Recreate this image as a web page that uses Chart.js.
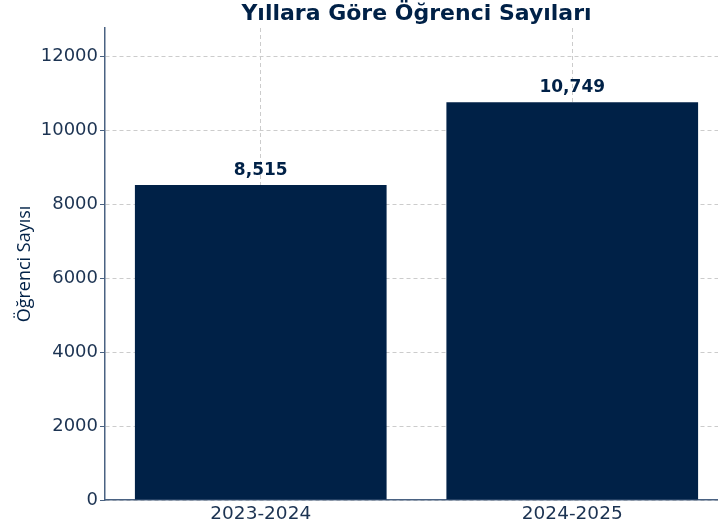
<!DOCTYPE html>
<html>
<head>
<meta charset="utf-8">
<script src="https://cdn.jsdelivr.net/npm/chart.js@4"></script>
<style>
  html, body { margin: 0; padding: 0; background: #fff; overflow: hidden; }
</style>
</head>
<body>
<canvas id="studentChart" width="728" height="529"></canvas>
<script>
const years = ['2023-2024', '2024-2025']
const student_counts = [8515, 10749]
const y_ticks = [0, 2000, 4000, 6000, 8000, 10000, 12000]
const chart_title = 'Yıllara Göre Öğrenci Sayıları'

const navy = '#002147'
const spine = '#4a6282'
const tickText = '#1c3352'

// labels above bars + title centred over the plot area
const valueLabels = {
    id: 'valueLabels',
    afterDatasetsDraw(chart) {
        const ctx = chart.ctx
        const meta = chart.getDatasetMeta(0)
        ctx.save()
        ctx.font = 'bold 17px "DejaVu Sans"'
        ctx.fillStyle = navy
        ctx.textAlign = 'center'
        ctx.textBaseline = 'bottom'
        meta.data.forEach((bar, i) => {
            ctx.fillText(student_counts[i].toLocaleString('en-US'), bar.x, bar.y - 6)
        })
        const area = chart.chartArea
        ctx.font = 'bold 22px "DejaVu Sans"'
        ctx.textBaseline = 'middle'
        ctx.fillText(chart_title, (area.left + area.right) / 2, 14)
        ctx.restore()
    }
}

const ctx = document.getElementById('studentChart').getContext('2d')
new Chart(ctx, {
    type: 'bar',
    data: {
        labels: years,
        datasets: [{
            data: student_counts,
            backgroundColor: navy,
            borderWidth: 0,
            barPercentage: 0.808,
            categoryPercentage: 1.0
        }]
    },
    options: {
        responsive: false,
        animation: false,
        layout: { padding: { left: 14, top: 28, right: 0, bottom: 0 } },
        plugins: {
            legend: { display: false },
            tooltip: { enabled: false },
            title: { display: false }
        },
        scales: {
            x: {
                z: 1,
                offset: true,
                afterFit: (scale) => { scale.height = 29 },
                grid: { offset: false, color: '#cccccc', tickLength: 0 },
                border: { color: spine, width: 1.5, dash: [4, 3] },
                ticks: {
                    color: tickText,
                    font: { family: 'DejaVu Sans', size: 18.5 },
                    padding: 3
                }
            },
            y: {
                z: 1,
                min: 0,
                max: 12757,
                afterBuildTicks: (scale) => {
                    scale.ticks = y_ticks.map(v => ({ value: v }))
                },
                afterFit: (scale) => { scale.width = 91 },
                grid: { color: '#cccccc', tickColor: spine, tickLength: 5 },
                border: { color: spine, width: 1.5, dash: [4, 3] },
                ticks: {
                    color: tickText,
                    font: { family: 'DejaVu Sans', size: 18 },
                    padding: 2,
                    callback: (v) => String(v)
                },
                title: {
                    display: true,
                    text: 'Öğrenci Sayısı',
                    color: navy,
                    font: { family: 'Open Sans', size: 18 },
                    padding: { top: 0, bottom: 0 }
                }
            }
        }
    },
    plugins: [valueLabels]
})
</script>
</body>
</html>
